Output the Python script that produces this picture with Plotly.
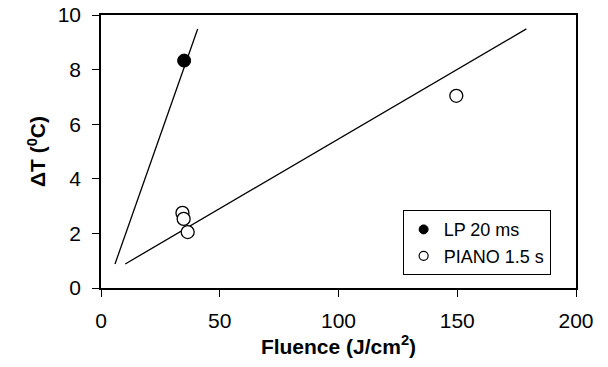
import plotly.graph_objects as go

# LP 20 ms (filled)
lp_x = [35.0]
lp_y = [8.33]
# PIANO 1.5 s (open)
piano_x = [34.3, 34.8, 36.5, 149.6]
piano_y = [2.75, 2.53, 2.05, 7.04]
# Fit lines (endpoints)
lp_fit_x = [5.9, 40.7]
lp_fit_y = [0.88, 9.49]
piano_fit_x = [10.2, 179.1]
piano_fit_y = [0.88, 9.49]

x_ticks = [0, 50, 100, 150, 200]
y_ticks = [0, 2, 4, 6, 8, 10]

fig = go.Figure()
fig.add_trace(go.Scatter(x=lp_fit_x, y=lp_fit_y, mode="lines",
                         line=dict(color="black", width=1.3), showlegend=False, hoverinfo="skip"))
fig.add_trace(go.Scatter(x=piano_fit_x, y=piano_fit_y, mode="lines",
                         line=dict(color="black", width=1.3), showlegend=False, hoverinfo="skip"))
fig.add_trace(go.Scatter(x=lp_x, y=lp_y, mode="markers", name="LP 20 ms", showlegend=False,
                         marker=dict(symbol="circle", size=13, color="black",
                                     line=dict(color="black", width=1))))
fig.add_trace(go.Scatter(x=piano_x, y=piano_y, mode="markers", name="PIANO 1.5 s", showlegend=False,
                         marker=dict(symbol="circle", size=13, color="white",
                                     line=dict(color="black", width=1.3))))
# legend entries (smaller symbols as in the reference legend)
fig.add_trace(go.Scatter(x=[None], y=[None], mode="markers", name="LP 20 ms",
                         marker=dict(symbol="circle", size=9, color="black",
                                     line=dict(color="black", width=1))))
fig.add_trace(go.Scatter(x=[None], y=[None], mode="markers", name="PIANO 1.5 s",
                         marker=dict(symbol="circle", size=9, color="white",
                                     line=dict(color="black", width=1.2))))

font_family = "Liberation Sans, Arial, sans-serif"
fig.update_layout(
    width=608, height=367,
    margin=dict(l=101, r=32, t=15, b=79, autoexpand=False),
    plot_bgcolor="white", paper_bgcolor="white",
    font=dict(family=font_family, size=21, color="black"),
    legend=dict(x=0.635, y=0.285, xanchor="left", yanchor="top",
                bordercolor="black", borderwidth=1, bgcolor="white",
                font=dict(size=18), itemsizing="trace", tracegroupgap=0,
                itemwidth=30),
    xaxis=dict(range=[0, 200], tickvals=x_ticks, ticks="outside", ticklen=7,
               tickwidth=1, tickcolor="black", showline=True, linecolor="black",
               linewidth=1.5, mirror=True, showgrid=False, zeroline=False,
               ticklabelstandoff=6, automargin=False,
               title=dict(text="<b>Fluence (J/cm<sup>2</sup>)</b>", font=dict(size=21), standoff=2)),
    yaxis=dict(range=[0, 10], tickvals=y_ticks, ticks="outside", ticklen=7,
               tickwidth=1, tickcolor="black", showline=True, linecolor="black",
               linewidth=1.5, mirror=True, showgrid=False, zeroline=False,
               ticklabelstandoff=7, automargin=False,
               title=dict(text="<b>ΔT (<sup>0</sup>C)</b>", font=dict(size=21), standoff=6)),
)
fig.write_html("out.html")
